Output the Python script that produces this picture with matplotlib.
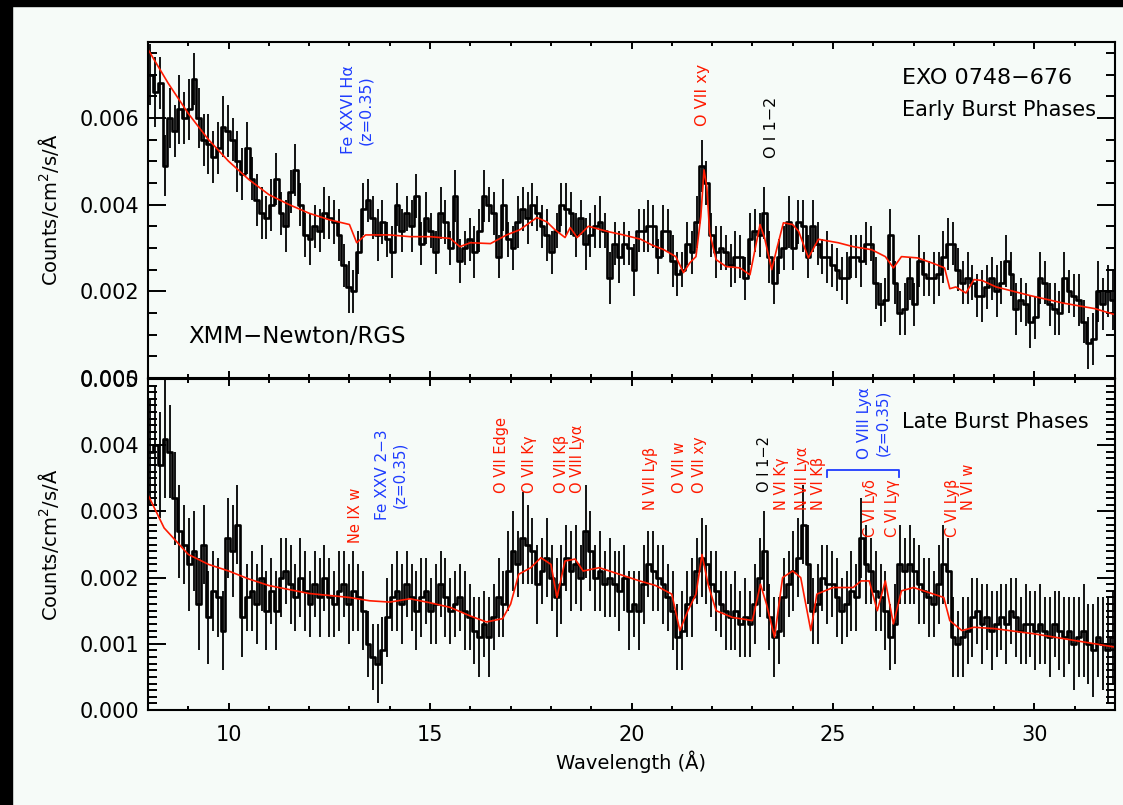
import numpy as np
import matplotlib
matplotlib.use("Agg")
import matplotlib.pyplot as plt
from matplotlib.patches import Rectangle

# spectrum values are in units of 1e-4 counts/cm2/s/A, bins of 0.12 A from 8 to 32 A
BIN = 0.12
early_flux = [
    70, 66, 68, 49, 60, 57, 62, 60,
    62, 69, 60, 55, 54, 51, 53, 58,
    57, 55, 50, 47, 53, 46, 41, 38,
    37, 40, 46, 38, 35, 43, 48, 40,
    33, 32, 35, 34, 38, 37, 36, 33,
    26, 21, 20, 29, 39, 41, 37, 33,
    36, 32, 29, 40, 34, 38, 35, 42,
    31, 37, 34, 29, 38, 36, 30, 42,
    27, 30, 32, 29, 34, 42, 40, 38,
    28, 40, 32, 30, 36, 39, 37, 40,
    38, 35, 33, 29, 34, 40, 39, 38,
    33, 37, 31, 33, 35, 36, 34, 23,
    31, 28, 31, 30, 25, 34, 34, 35,
    35, 28, 34, 34, 27, 24, 25, 31,
    29, 36, 49, 45, 33, 29, 30, 29,
    26, 28, 28, 23, 32, 34, 33, 38,
    28, 22, 28, 30, 36, 30, 36, 35,
    28, 35, 31, 28, 28, 26, 25, 23,
    23, 28, 28, 27, 31, 31, 22, 17,
    18, 33, 22, 15, 16, 23, 17, 27,
    24, 23, 23, 24, 28, 31, 31, 25,
    22, 23, 22, 19, 19, 21, 23, 20,
    22, 27, 24, 16, 18, 17, 13, 14,
    23, 22, 17, 16, 15, 23, 20, 19,
    18, 13, 8, 9, 20, 17, 20, 18,
]
early_err = [
    7, 8, 6, 7, 7, 6, 8, 6,
    7, 6, 7, 6, 7, 6, 6, 7,
    6, 5, 7, 6, 6, 5, 6, 6,
    5, 6, 6, 5, 6, 5, 6, 5,
    5, 6, 5, 5, 6, 5, 5, 6,
    5, 6, 5, 5, 6, 5, 5, 6,
    5, 4, 6, 5, 5, 4, 6, 5,
    5, 6, 4, 5, 6, 5, 4, 6,
    5, 4, 5, 6, 5, 6, 4, 5,
    5, 6, 4, 5, 6, 5, 6, 5,
    4, 5, 6, 5, 4, 5, 6, 5,
    5, 4, 6, 5, 5, 6, 4, 6,
    5, 6, 5, 4, 6, 5, 5, 6,
    5, 4, 6, 5, 6, 5, 4, 5,
    5, 6, 6, 5, 5, 6, 5, 4,
    5, 6, 5, 5, 6, 5, 5, 6,
    6, 5, 4, 5, 6, 5, 5, 6,
    5, 6, 5, 4, 6, 5, 5, 5,
    6, 5, 5, 6, 5, 4, 6, 5,
    5, 6, 5, 5, 6, 5, 5, 6,
    5, 4, 6, 5, 6, 6, 5, 5,
    5, 6, 4, 5, 6, 5, 5, 6,
    5, 6, 5, 6, 5, 5, 6, 5,
    6, 5, 5, 6, 5, 6, 5, 5,
    6, 5, 6, 6, 7, 6, 6, 7,
]
late_flux = [
    39, 40, 37, 41, 39, 32, 27, 25,
    22, 24, 16, 25, 14, 18, 17, 12,
    26, 24, 28, 14, 17, 18, 16, 20,
    15, 18, 15, 20, 21, 19, 17, 20,
    18, 16, 19, 17, 20, 17, 16, 18,
    19, 16, 18, 17, 15, 10, 8, 7,
    9, 14, 17, 18, 16, 19, 17, 15,
    17, 18, 15, 16, 19, 17, 15, 16,
    17, 15, 14, 12, 11, 13, 11, 14,
    17, 16, 21, 24, 22, 26, 25, 24,
    19, 21, 23, 20, 17, 19, 23, 21,
    22, 20, 27, 24, 20, 21, 19, 20,
    19, 18, 20, 15, 16, 15, 19, 22,
    21, 20, 19, 17, 15, 11, 12, 16,
    17, 21, 23, 22, 19, 18, 16, 15,
    14, 15, 13, 14, 13, 16, 20, 24,
    14, 11, 12, 17, 19, 21, 23, 28,
    22, 15, 16, 20, 19, 19, 17, 15,
    16, 18, 17, 26, 22, 21, 18, 17,
    15, 11, 13, 22, 21, 22, 21, 19,
    18, 17, 16, 19, 22, 21, 11, 10,
    11, 12, 14, 15, 13, 14, 12, 13,
    14, 13, 15, 14, 12, 13, 13, 12,
    13, 12, 11, 13, 12, 11, 12, 10,
    11, 12, 10, 9, 11, 10, 9, 11,
]
late_err = [
    8, 9, 8, 9, 7, 7, 7, 6,
    7, 6, 7, 6, 7, 6, 6, 6,
    6, 7, 6, 6, 5, 6, 6, 5,
    6, 5, 6, 6, 5, 6, 5, 6,
    6, 5, 5, 6, 5, 6, 5, 6,
    5, 6, 6, 5, 6, 5, 5, 6,
    5, 6, 5, 6, 6, 5, 5, 6,
    6, 5, 5, 6, 5, 6, 5, 5,
    5, 6, 5, 5, 6, 5, 6, 5,
    6, 5, 6, 6, 5, 7, 6, 5,
    6, 5, 6, 5, 6, 6, 5, 6,
    6, 5, 7, 6, 5, 6, 5, 6,
    5, 6, 5, 6, 5, 6, 6, 5,
    6, 5, 6, 5, 6, 5, 6, 5,
    6, 5, 6, 6, 5, 6, 5, 6,
    5, 6, 5, 6, 5, 6, 6, 6,
    5, 6, 5, 6, 5, 6, 6, 6,
    6, 5, 6, 5, 6, 5, 6, 5,
    5, 6, 5, 6, 6, 5, 6, 5,
    6, 5, 6, 6, 5, 6, 5, 6,
    5, 6, 5, 6, 6, 5, 6, 5,
    6, 5, 6, 5, 6, 5, 6, 5,
    5, 6, 5, 6, 5, 6, 5, 6,
    6, 5, 6, 5, 6, 6, 5, 7,
    6, 7, 6, 7, 6, 7, 8, 7,
]

# red model curves (wavelength, 1e-4 flux)
early_model_x = [8.0, 8.5, 9.0, 9.5, 10.0, 10.5, 11.0, 11.5, 12.0, 12.5, 13.0, 13.18,
                 13.4, 14.0, 14.5, 15.0, 15.5, 15.74, 16.0, 16.5, 16.9, 17.23, 17.65,
                 17.9, 18.1, 18.35, 18.48, 18.65, 18.93, 19.4, 19.8, 20.23, 20.5, 20.8,
                 21.1, 21.29, 21.45, 21.6, 21.72, 21.8, 21.87, 21.94, 22.1, 22.35, 22.69,
                 22.94, 23.19, 23.3, 23.48, 23.6, 23.77, 24.0, 24.15, 24.39, 24.64, 25.13,
                 25.5, 25.96, 26.3, 26.5, 26.7, 27.1, 27.5, 27.77, 27.9, 28.05, 28.3,
                 28.5, 28.7, 29.05, 29.9, 30.7, 31.5, 32.0]
early_model_y = [75.8, 68, 61, 55, 50, 45.8, 42.3, 40, 38, 36.5, 35.4, 31.2,
                 33, 33, 32.6, 32.6, 32.2, 30.3, 31.2, 31, 33, 34.2, 37,
                 36, 34.2, 32.4, 34.7, 32.4, 35, 33.8, 33, 32, 30.7, 29.6,
                 28, 24.3, 26.6, 28, 37.2, 48, 44, 33.5, 27.3, 25.7, 25.4,
                 23.8, 35.4, 32.4, 25, 29.6, 35.8, 35.4, 33.8, 27.7, 32, 31.2,
                 30.3, 29.6, 28, 25.4, 28, 27.7, 26.4, 25.4, 20.6, 21, 19.6,
                 22.7, 22.5, 21, 19, 17.3, 16, 14.6]
late_model_x = [8.0, 8.4, 9.0, 9.5, 10.0, 10.5, 11.0, 11.5, 12.0, 12.5, 13.0, 13.5,
                14.0, 14.5, 15.0, 15.5, 16.0, 16.4, 16.8, 17.0, 17.2, 17.5, 17.75,
                18.0, 18.15, 18.35, 18.6, 18.8, 19.2, 19.7, 20.2, 20.6, 21.0, 21.2,
                21.4, 21.6, 21.75, 21.9, 22.1, 22.5, 23.0, 23.2, 23.35, 23.55, 23.75,
                24.0, 24.2, 24.45, 24.6, 25.0, 25.5, 25.7, 25.9, 26.1, 26.3, 26.5,
                26.7, 27.0, 27.5, 27.75, 27.9, 28.2, 28.5, 29.0, 30.0, 31.0, 32.0]
late_model_y = [32.5, 27.5, 23.5, 22, 21, 19.8, 18.8, 18.2, 17.6, 17.3, 17.0, 16.5,
                16.3, 16.8, 16.2, 15.5, 14.2, 13.3, 13.8, 16, 20.5, 21.5, 23,
                22, 17, 22.5, 22.8, 21, 21.5, 20.5, 19.5, 18.8, 17.5, 12,
                15, 17.5, 23.5, 19, 15, 14, 13.5, 19, 16, 11, 20,
                21, 20, 12, 17.5, 18.5, 18.5, 19.5, 19.5, 15, 19.5, 13,
                18, 18.5, 17.5, 17, 13.5, 12, 12.5, 12.3, 11.5, 10.5, 9.5]

# line identifications: (label, wavelength, flux 1e-4, colour)
early_lines = [("Fe XXVI H\u03b1\n(z=0.35)", 13.19, 61.9, "blue"),
               ("O VII xy", 21.75, 65.3, "red"),
               ("O I 1\u22122", 23.48, 57.9, "black")]
late_lines = [("Ne IX w", 13.14, 25.2, "red"),
              ("O VII Edge", 16.78, 32.8, "red"),
              ("O VII K\u03b3", 17.48, 32.8, "red"),
              ("O VII K\u03b2", 18.27, 32.8, "red"),
              ("O VIII Ly\u03b1", 18.65, 32.8, "red"),
              ("N VII Ly\u03b2", 20.46, 30.2, "red"),
              ("O VII w", 21.20, 32.8, "red"),
              ("O VII xy", 21.70, 32.8, "red"),
              ("O I 1\u22122", 23.31, 32.9, "black"),
              ("N VI K\u03b3", 23.72, 30.2, "red"),
              ("N VII Ly\u03b1", 24.24, 30.2, "red"),
              ("N VI K\u03b2", 24.64, 30.2, "red"),
              ("C VI Ly\u03b4", 25.92, 26.1, "red"),
              ("C VI Ly\u03b3", 26.49, 26.1, "red"),
              ("C VI Ly\u03b2", 27.96, 26.1, "red"),
              ("N VI w", 28.36, 30.2, "red")]

BG = "#f6fbf8"
RED = "#ff1a00"
BLUE = "#1e3cff"
COLORS = {"red": RED, "blue": BLUE, "black": "black"}

plt.rcParams["font.family"] = ["DejaVu Sans"]
fig = plt.figure(figsize=(11.23, 8.05), dpi=100, facecolor=BG)
ax1 = fig.add_axes([148 / 1123, 1 - 378 / 805, 967 / 1123, 336 / 805])
ax2 = fig.add_axes([148 / 1123, 1 - 710 / 805, 967 / 1123, 331 / 805])

wl = 8 + BIN / 2 + BIN * np.arange(len(early_flux))


def draw_panel(ax, flux, err, mx, my):
    f = np.array(flux) * 1e-4
    e = np.array(err) * 1e-4
    ax.set_facecolor(BG)
    ax.errorbar(wl, f, yerr=e, fmt="none", ecolor="black", elinewidth=1.3, capsize=0)
    ax.step(wl, f, where="mid", color="black", lw=1.9)
    ax.plot(mx, np.array(my) * 1e-4, color=RED, lw=1.2)
    ax.set_xlim(8, 32)
    ax.set_xticks([10, 15, 20, 25, 30])
    ax.set_xticks(np.arange(8, 33, 1), minor=True)
    ax.tick_params(axis="both", which="both", direction="in", top=True, right=True,
                   width=1.4, labelsize=15)
    ax.tick_params(axis="x", which="major", length=5, pad=11)
    ax.tick_params(axis="x", which="minor", length=3)
    ax.tick_params(axis="y", which="major", length=13, pad=6)
    ax.tick_params(axis="y", which="minor", length=6.5)
    ax.yaxis.set_major_formatter(matplotlib.ticker.FormatStrFormatter("%.3f"))
    ax.set_ylabel("Counts/cm$^2$/s/\u00c5", fontsize=14)
    for s in ax.spines.values():
        s.set_linewidth(1.5)


draw_panel(ax1, early_flux, early_err, early_model_x, early_model_y)
ax1.set_ylim(0, 0.00775)
ax1.set_yticks([0, 0.002, 0.004, 0.006])
ax1.set_yticks(np.arange(0, 0.0078, 0.0005), minor=True)
ax1.tick_params(axis="x", labelbottom=False)
ax1.yaxis.set_label_coords(-0.09, 0.5)

draw_panel(ax2, late_flux, late_err, late_model_x, late_model_y)
ax2.set_ylim(0, 0.005)
ax2.set_yticks([0, 0.001, 0.002, 0.003, 0.004, 0.005])
ax2.set_yticks(np.arange(0, 0.00501, 0.0001), minor=True)
ax2.set_xlabel("Wavelength (\u00c5)", fontsize=14, labelpad=4)
ax2.yaxis.set_label_coords(-0.09, 0.5)

for label, x, y, c in early_lines:
    ax1.text(x, y * 1e-4, label, rotation=90, color=COLORS[c], fontsize=11.5,
             ha="center", va="center", multialignment="center")
ax1.text(26.71, 0.00692, "EXO 0748\u2212676", fontsize=16, va="center")
ax1.text(26.71, 0.00619, "Early Burst Phases", fontsize=15, va="center")
ax1.text(8.99, 0.000946, "XMM\u2212Newton/RGS", fontsize=16.5, va="center")

for label, x, y, c in late_lines:
    ax2.text(x, y * 1e-4, label, rotation=90, color=COLORS[c], fontsize=10.5,
             ha="center", va="bottom")
ax2.text(14.03, 0.00355, "Fe XXV 2\u22123\n(z=0.35)", rotation=90, color=BLUE,
         fontsize=11, ha="center", va="center", multialignment="center")
ax2.text(26.01, 0.00434, "O VIII Ly\u03b1\n(z=0.35)", rotation=90, color=BLUE,
         fontsize=11, ha="center", va="center", multialignment="center")
ax2.plot([24.85, 24.85, 26.64, 26.64], [0.00352, 0.00363, 0.00363, 0.00352],
         color=BLUE, lw=1.3)
ax2.text(26.71, 0.00435, "Late Burst Phases", fontsize=15, va="center")

# dark frame on the left and top edges
fig.patches.append(Rectangle((0, 0), 12 / 1123, 1, transform=fig.transFigure,
                             color="black", zorder=10))
fig.patches.append(Rectangle((0, 1 - 6 / 805), 1, 6 / 805, transform=fig.transFigure,
                             color="black", zorder=10))

fig.savefig("out.png", dpi=100, facecolor=BG)
